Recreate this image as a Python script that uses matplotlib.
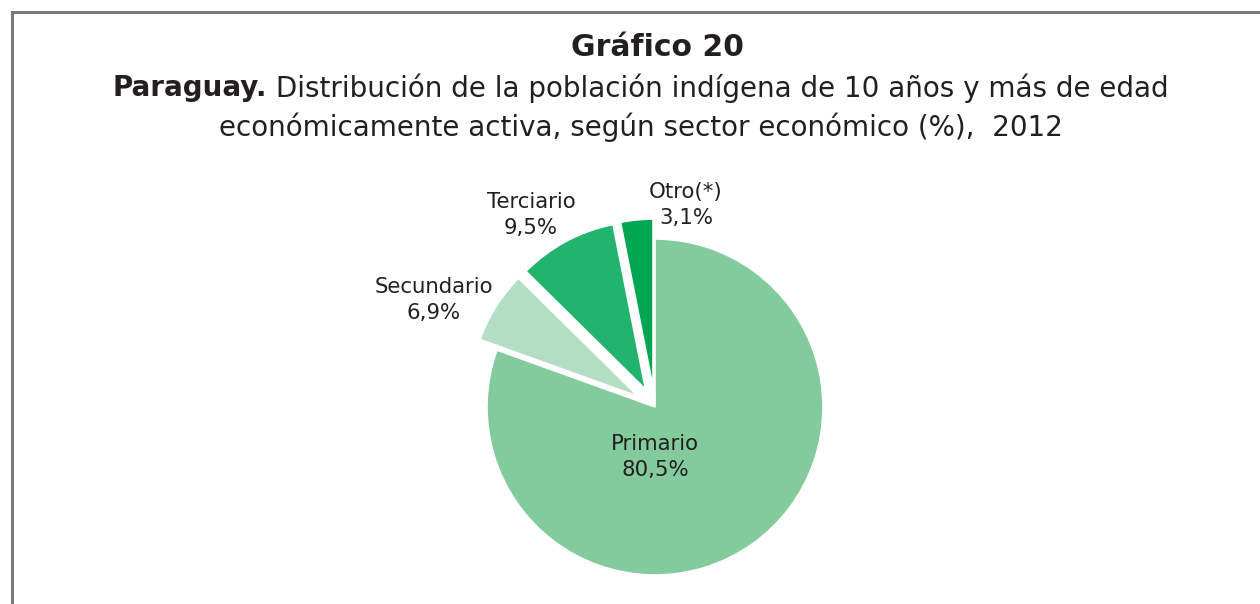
import matplotlib
matplotlib.use("Agg")
import matplotlib.pyplot as plt

categories = ["Primario", "Secundario", "Terciario", "Otro(*)"]
values = [80.5, 6.9, 9.5, 3.1]
value_labels = ["80,5%", "6,9%", "9,5%", "3,1%"]

colors = ["#83CB9D", "#B3DEC4", "#22B36F", "#00A651"]
explode = [0.0, 20, 20, 20]  # data units (pixels)

W, H = 1260, 604
fig = plt.figure(figsize=(W / 100, H / 100), dpi=100)
ax = fig.add_axes([0, 0, 1, 1])

cx, cy, r = 655, H - 407, 168
ax.pie(values, colors=colors, explode=explode, startangle=90, counterclock=False,
       center=(cx, cy), radius=r, frame=True,
       wedgeprops=dict(edgecolor="white", linewidth=1.2))
ax.set_xlim(0, W)
ax.set_ylim(0, H)
ax.set_aspect("equal")
ax.axis("off")

txt_color = "#231F20"
label_pos = [(655, 457), (434, 300), (531, 215), (686, 205)]
for name, val, (x, y) in zip(categories, value_labels, label_pos):
    ax.text(x, H - y, f"{name}\n{val}", ha="center", va="center",
            fontsize=15.3, color=txt_color, linespacing=1.38)

# titles
ax.text(657, H - 47, "Gráfico 20", ha="center", va="center", fontsize=21.5,
        fontweight="bold", color=txt_color)

fs = 20
t_bold = ax.text(0, H - 88, "Paraguay.", ha="left", va="center", fontsize=fs,
                 fontweight="bold", color=txt_color)
t_rest = ax.text(0, H - 88, " Distribución de la población indígena de 10 años y más de edad",
                 ha="left", va="center", fontsize=fs, color=txt_color)
fig.canvas.draw()
rend = fig.canvas.get_renderer()
wb = t_bold.get_window_extent(rend).width
wr = t_rest.get_window_extent(rend).width
total = wb + wr
x0 = 641 - total / 2
t_bold.set_x(x0)
t_rest.set_x(x0 + wb)

ax.text(641, H - 127, "económicamente activa, según sector económico (%),  2012",
        ha="center", va="center", fontsize=fs, color=txt_color)

# border (left and top)
ax.plot([12, 12, W], [0, H - 12, H - 12], color="#7A7A7A", linewidth=2.2,
        solid_joinstyle="miter", clip_on=False)

fig.savefig("out.png", dpi=100)
